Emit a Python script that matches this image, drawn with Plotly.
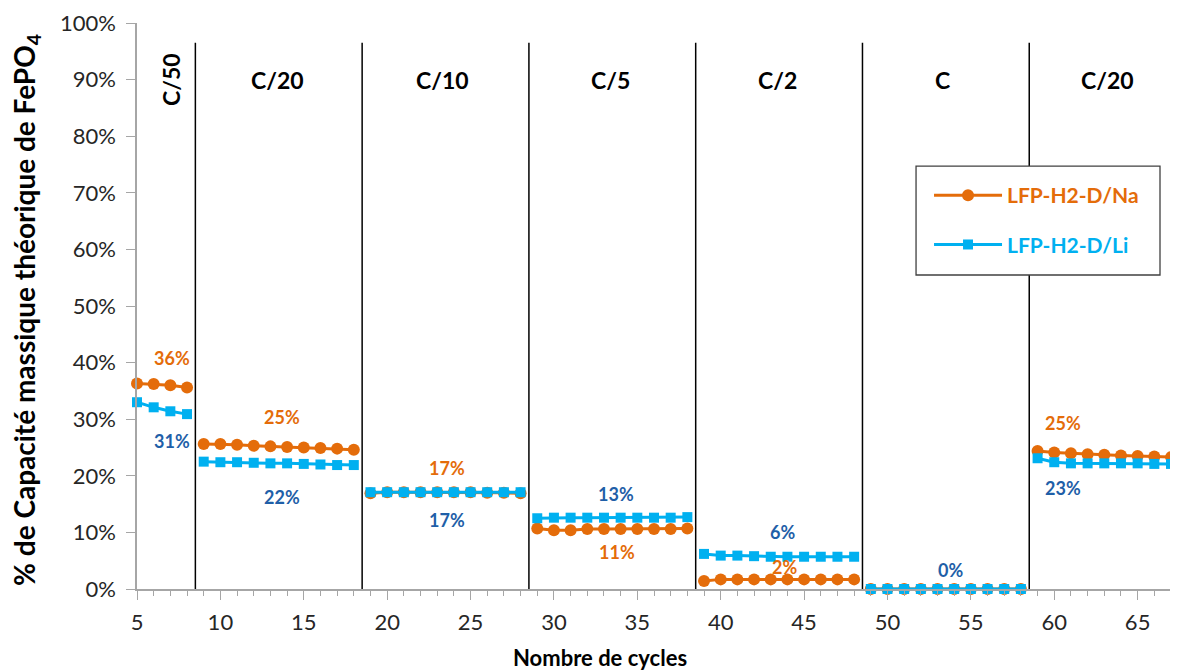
import plotly.graph_objects as go

# ---------------- data ----------------
cycles_c50 = [5, 6, 7, 8]
cycles_c20 = list(range(9, 19))
cycles_c10 = list(range(19, 29))
cycles_c5 = list(range(29, 39))
cycles_c2 = list(range(39, 49))
cycles_c1 = list(range(49, 59))
cycles_c20b = list(range(59, 68))

na_c50 = [36.3, 36.2, 36.0, 35.6]
na_c20 = [25.6, 25.6, 25.5, 25.3, 25.2, 25.1, 25.0, 24.9, 24.8, 24.6]
na_c10 = [16.9, 17.1, 17.1, 17.1, 17.1, 17.1, 17.1, 17.0, 17.0, 16.9]
na_c5 = [10.7, 10.4, 10.4, 10.6, 10.6, 10.6, 10.6, 10.6, 10.6, 10.7]
na_c2 = [1.4, 1.7, 1.7, 1.7, 1.7, 1.7, 1.7, 1.7, 1.7, 1.7]
na_c1 = [0.0] * 10
na_c20b = [24.4, 24.1, 24.0, 23.8, 23.7, 23.6, 23.5, 23.4, 23.3]

li_c50 = [33.0, 32.1, 31.4, 30.9]
li_c20 = [22.5, 22.4, 22.4, 22.3, 22.2, 22.2, 22.1, 22.0, 21.9, 21.9]
li_c10 = [17.1] * 10
li_c5 = [12.5, 12.6, 12.6, 12.6, 12.6, 12.6, 12.6, 12.6, 12.6, 12.7]
li_c2 = [6.2, 5.9, 5.9, 5.8, 5.7, 5.7, 5.7, 5.7, 5.7, 5.7]
li_c1 = [0.0] * 10
li_c20b = [23.1, 22.4, 22.2, 22.2, 22.2, 22.2, 22.2, 22.1, 22.1]

series_names = ["LFP-H2-D/Na", "LFP-H2-D/Li"]

rate_labels = ["C/50", "C/20", "C/10", "C/5", "C/2", "C", "C/20"]
section_bounds = [8.5, 18.5, 28.5, 38.5, 48.5, 58.5]

na_labels = ["36%", "25%", "17%", "11%", "2%", "25%"]
li_labels = ["31%", "22%", "17%", "13%", "6%", "0%", "23%"]

x_ticks = [5, 10, 15, 20, 25, 30, 35, 40, 45, 50, 55, 60, 65]
y_ticks = [0, 10, 20, 30, 40, 50, 60, 70, 80, 90, 100]
y_ticktext = [f"{v}%" for v in y_ticks]

x_title = "Nombre de cycles"
y_title = "% de Capacité massique théorique de FePO<sub>4</sub>"

# ---------------- style ----------------
ORANGE = "#E46C0A"
BLUE = "#00B0F0"
DARKBLUE = "#1F5FA8"
FONT = "Lato"

x_segments = [cycles_c50, cycles_c20, cycles_c10, cycles_c5, cycles_c2, cycles_c1, cycles_c20b]
na_segments = [na_c50, na_c20, na_c10, na_c5, na_c2, na_c1, na_c20b]
li_segments = [li_c50, li_c20, li_c10, li_c5, li_c2, li_c1, li_c20b]

fig = go.Figure()

for i, (xs, ys) in enumerate(zip(x_segments, na_segments)):
    fig.add_trace(go.Scatter(
        x=xs, y=ys, mode="lines+markers", cliponaxis=False,
        line=dict(color=ORANGE, width=3),
        marker=dict(symbol="circle", size=12, color=ORANGE),
        name=f"<span style='color:{ORANGE}'><b>{series_names[0]}</b></span>",
        legendgroup="na", showlegend=(i == 0),
    ))
for i, (xs, ys) in enumerate(zip(x_segments, li_segments)):
    fig.add_trace(go.Scatter(
        x=xs, y=ys, mode="lines+markers", cliponaxis=False,
        line=dict(color=BLUE, width=3),
        marker=dict(symbol="square", size=10, color=BLUE),
        name=f"<span style='color:{BLUE}'><b>{series_names[1]}</b></span>",
        legendgroup="li", showlegend=(i == 0),
    ))

# section separators
for xb in section_bounds:
    fig.add_shape(type="line", xref="x", yref="y", x0=xb, x1=xb, y0=0, y1=96.5,
                  line=dict(color="black", width=1.5))

# legend frame
fig.add_shape(type="rect", xref="paper", yref="paper", x0=0.7498, x1=0.9846,
              y0=0.5548, y1=0.7473, fillcolor="white", layer="above",
              line=dict(color="#404040", width=1.3))

# rate labels
rate_x = [7.0, 13.4, 23.3, 33.4, 43.4, 53.3, 63.2]
for i, (rx, lab) in enumerate(zip(rate_x, rate_labels)):
    fig.add_annotation(x=rx, y=90, xref="x", yref="y", text=f"<b>{lab}</b>",
                       showarrow=False, textangle=-90 if i == 0 else 0,
                       font=dict(family=FONT, size=23, color="black"))

# value labels
na_lab_x = [7.1, 13.7, 23.6, 33.8, 43.8, 60.5]
na_lab_y = [40.8, 30.4, 21.4, 6.6, 3.8, 29.4]
for lx, ly, t in zip(na_lab_x, na_lab_y, na_labels):
    fig.add_annotation(x=lx, y=ly, xref="x", yref="y", text=f"<b>{t}</b>",
                       showarrow=False, font=dict(family=FONT, size=18, color=ORANGE))
li_lab_x = [7.1, 13.7, 23.6, 33.7, 43.7, 53.8, 60.5]
li_lab_y = [26.2, 16.3, 12.2, 16.7, 10.1, 3.4, 17.9]
for lx, ly, t in zip(li_lab_x, li_lab_y, li_labels):
    fig.add_annotation(x=lx, y=ly, xref="x", yref="y", text=f"<b>{t}</b>",
                       showarrow=False, font=dict(family=FONT, size=18, color=DARKBLUE))

# axis titles
fig.add_annotation(x=-0.1068, y=0.493, xref="paper", yref="paper",
                   xanchor="center", yanchor="middle", textangle=-90,
                   text=f"<b>{y_title}</b>", showarrow=False,
                   font=dict(family=FONT, size=28, color="black"))
fig.add_annotation(x=0.4456, y=-0.1219, xref="paper", yref="paper",
                   xanchor="center", yanchor="middle",
                   text=f"<b>{x_title}</b>", showarrow=False,
                   font=dict(family=FONT, size=22, color="black"))

fig.update_layout(
    width=1170, height=662,
    margin=dict(l=129, r=2, t=15, b=81),
    paper_bgcolor="white", plot_bgcolor="white",
    font=dict(family=FONT, size=22, color="#262626"),
    showlegend=True,
    legend=dict(
        x=0.7623, y=0.7314, xanchor="left", yanchor="top",
        bgcolor="rgba(0,0,0,0)", borderwidth=0,
        font=dict(family=FONT, size=21),
        itemwidth=68, tracegroupgap=19,
    ),
    xaxis=dict(
        range=[5, 67.3], tickvals=x_ticks, showgrid=False, zeroline=False,
        showline=True, linecolor="#A6A6A6", linewidth=1.5, automargin=False,
        ticks="outside", ticklen=9, tickcolor="#A6A6A6", ticklabelstandoff=4,
        minor=dict(dtick=1, ticks="outside", ticklen=5, tickcolor="#A6A6A6"),
        tickfont=dict(size=22),
    ),
    yaxis=dict(
        range=[0, 100], tickvals=y_ticks, ticktext=y_ticktext, showgrid=False, zeroline=False,
        showline=True, linecolor="#A6A6A6", linewidth=1.5, automargin=False,
        ticks="outside", ticklen=9, tickcolor="#A6A6A6", ticklabelstandoff=6,
        tickfont=dict(size=22),
    ),
)

fig.write_html("out.html")
